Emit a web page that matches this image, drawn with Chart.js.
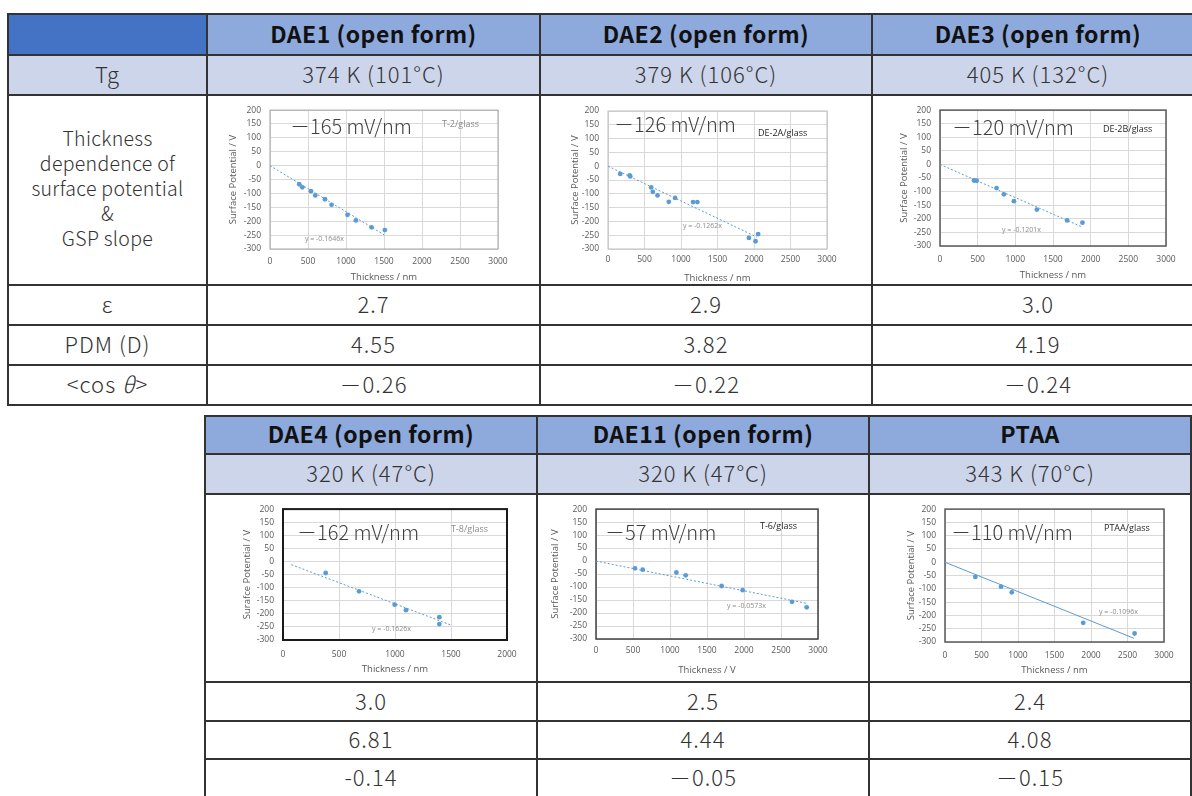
<!DOCTYPE html>
<html>
<head>
<meta charset="utf-8">
<script src="https://cdn.jsdelivr.net/npm/chart.js@4.4.1/dist/chart.umd.min.js"></script>
<style>
body { margin:0; width:1192px; height:796px; overflow:hidden; background:#fff; position:relative;
       font-family:'Noto Sans CJK JP','Noto Sans',sans-serif; color:#333; }
.cell { position:absolute; display:flex; align-items:center; justify-content:center; text-align:center;
        font-size:22px; font-weight:300; letter-spacing:1px; box-sizing:border-box; line-height:25px;
        padding-bottom:3px; }
.head { font-weight:700; color:#111; font-size:23px; letter-spacing:0.5px; }
.small { font-size:19.5px; letter-spacing:0.3px; padding-bottom:6px; }
.line { position:absolute; background:#333; }
canvas { position:absolute; }
</style>
</head>
<body>
<script>
// table text
const compounds = ['DAE1 (open form)', 'DAE2 (open form)', 'DAE3 (open form)',
                   'DAE4 (open form)', 'DAE11 (open form)', 'PTAA'];
const tgLabels = ['374 K (101°C)', '379 K (106°C)', '405 K (132°C)',
                  '320 K (47°C)', '320 K (47°C)', '343 K (70°C)'];
const epsValues = ['2.7', '2.9', '3.0', '3.0', '2.5', '2.4'];
const pdmValues = ['4.55', '3.82', '4.19', '6.81', '4.44', '4.08'];
const cosValues = ['－0.26', '－0.22', '－0.24', '-0.14', '－0.05', '－0.15'];
const rowLabels = ['Tg', 'Thickness<br>dependence of<br>surface potential<br>&amp;<br>GSP slope',
                   'ε', 'PDM (D)', '&lt;cos&nbsp;<i>θ</i>&gt;'];

// chart text
const slopeLabels = ['－165 mV/nm', '－126 mV/nm', '－120 mV/nm', '－162 mV/nm', '－57 mV/nm', '－110 mV/nm'];
const sampleLabels = ['T-2/glass', 'DE-2A/glass', 'DE-2B/glass', 'T-8/glass', 'T-6/glass', 'PTAA/glass'];
const fitLabels = ['y = -0.1646x', 'y = -0.1262x', 'y = -0.1201x', 'y = -0.1626x', 'y = -0.0573x', 'y = -0.1096x'];
const yTitles = ['Surface Potential / V', 'Surface Potential / V', 'Surface Potential / V',
                 'Surafce Potential / V', 'Surface Potential / V', 'Surface Potential / V'];
const xTitles = ['Thickness / nm', 'Thickness / nm', 'Thickness / nm',
                 'Thickness / nm', 'Thickness / V', 'Thickness / nm'];
const xMaxes = [3000, 3000, 3000, 2000, 3000, 3000];

// measured points (thickness nm, surface potential V)
const dae1Thickness = [385, 425, 539, 596, 723, 810, 1020, 1130, 1336, 1511];
const dae1Potential = [-67, -78, -92, -107, -121, -141, -177, -197, -222, -232];
const dae1FitX = [0, 1502];
const dae1FitY = [0, -249];

const dae2Thickness = [168, 296, 305, 592, 614, 678, 833, 919, 1165, 1224, 1930, 2021, 2057];
const dae2Potential = [-28, -33, -37, -77, -93, -106, -129, -115, -130, -130, -260, -272, -246];
const dae2FitX = [0, 2040];
const dae2FitY = [0, -257];

const dae3Thickness = [451, 486, 751, 848, 981, 1286, 1688, 1891];
const dae3Potential = [-59, -60, -87, -110, -135, -166, -206, -214];
const dae3FitX = [0, 1878];
const dae3FitY = [0, -229];

const dae4Thickness = [381, 679, 997, 1098, 1396, 1396];
const dae4Potential = [-44, -114, -165, -186, -213, -239];
const dae4FitX = [74, 1500];
const dae4FitY = [-12, -243];

const dae11Thickness = [527, 631, 1086, 1212, 1698, 1982, 2649, 2847];
const dae11Potential = [-28, -33, -44, -55, -96, -112, -157, -178];
const dae11FitX = [0, 2847];
const dae11FitY = [0, -163];

const ptaaThickness = [416, 768, 915, 1893, 2597];
const ptaaPotential = [-55, -92, -113, -228, -268];
const ptaaFitX = [0, 2588];
const ptaaFitY = [0, -286];

const series = [
    [dae1Thickness, dae1Potential, dae1FitX, dae1FitY],
    [dae2Thickness, dae2Potential, dae2FitX, dae2FitY],
    [dae3Thickness, dae3Potential, dae3FitX, dae3FitY],
    [dae4Thickness, dae4Potential, dae4FitX, dae4FitY],
    [dae11Thickness, dae11Potential, dae11FitX, dae11FitY],
    [ptaaThickness, ptaaPotential, ptaaFitX, ptaaFitY]
];

// layout of the two tables (page px)
const tables = [
    { cols: [8, 207, 540, 872, 1204], rows: [14, 55, 95, 285, 325, 365, 405], first: 0, labels: true },
    { cols: [205, 537, 869, 1191], rows: [416, 454, 494, 682, 721, 759, 797], first: 3, labels: false }
];

// chart panel placement and look
const panels = [
    { plot: [270, 108, 498, 249], yTitleX: 233, xTitleY: 277, tickGap: 7, frame: '#A6A6A6', frameW: 1,
      big: [263, 143], sample: [2263, 147], sampleColor: '#8c8c8c', fit: [460, -265], dash: [2, 2] },
    { plot: [608, 111, 827, 249], yTitleX: 575, xTitleY: 278, tickGap: 5, frame: '#BFBFBF', frameW: 1,
      big: [82, 153], sample: [2055, 120], sampleColor: '#262626', fit: [1027, -217], dash: [2, 2] },
    { plot: [940, 107, 1166, 246], yTitleX: 904, xTitleY: 275, tickGap: 8, frame: '#595959', frameW: 1.5,
      big: [159, 135], sample: [2163, 128], sampleColor: '#262626', fit: [823, -242], dash: [2, 2] },
    { plot: [283, 501, 507, 640], yTitleX: 247, xTitleY: 669, tickGap: 9, frame: '#1a1a1a', frameW: 2,
      big: [125, 110], sample: [1500, 124], sampleColor: '#8c8c8c', fit: [795, -257], dash: [2, 2] },
    { plot: [596, 501, 818, 639], yTitleX: 555, xTitleY: 670, tickGap: 6, frame: '#404040', frameW: 1.5,
      big: [122, 109], sample: [2216, 135], sampleColor: '#262626', fit: [1770, -173], dash: [2, 2] },
    { plot: [945, 500, 1164, 642], yTitleX: 911, xTitleY: 670, tickGap: 8, frame: '#595959', frameW: 1.5,
      big: [82, 112], sample: [2178, 126], sampleColor: '#262626', fit: [2110, -187], dash: [] }
];

const BLUE = '#5B9BD5';

function addCell(x0, y0, x1, y1, html, bg, cls) {
    const d = document.createElement('div');
    d.className = 'cell' + (cls ? ' ' + cls : '');
    d.style.left = x0 + 'px';
    d.style.top = y0 + 'px';
    d.style.width = (x1 - x0) + 'px';
    d.style.height = (y1 - y0) + 'px';
    if (bg) d.style.background = bg;
    d.innerHTML = html;
    document.body.appendChild(d);
}

function addLine(x, y, w, h) {
    const d = document.createElement('div');
    d.className = 'line';
    d.style.left = x + 'px';
    d.style.top = y + 'px';
    d.style.width = w + 'px';
    d.style.height = h + 'px';
    document.body.appendChild(d);
}

const panelDecor = {
    id: 'panelDecor',
    beforeDatasetsDraw(chart, args, opts) {
        const a = chart.chartArea;
        const ctx = chart.ctx;
        ctx.save();
        ctx.strokeStyle = opts.frame;
        ctx.lineWidth = opts.frameW;
        ctx.strokeRect(a.left, a.top, a.right - a.left, a.bottom - a.top);
        ctx.restore();
    },
    afterDraw(chart, args, opts) {
        const { ctx, scales: { x, y } } = chart;
        ctx.save();
        ctx.textAlign = 'left';
        ctx.textBaseline = 'middle';
        for (const n of opts.notes) {
            ctx.font = n.font;
            ctx.fillStyle = n.color;
            ctx.fillText(n.text, x.getPixelForValue(n.x), y.getPixelForValue(n.y));
        }
        ctx.restore();
    }
};

function makeChart(i, cx0, cy0, cx1, cy1) {
    const p = panels[i];
    const [xs, ys, fx, fy] = series[i];
    const canvas = document.createElement('canvas');
    const w = cx1 - cx0, h = cy1 - cy0;
    canvas.width = w;
    canvas.height = h;
    canvas.style.left = cx0 + 'px';
    canvas.style.top = cy0 + 'px';
    canvas.style.width = w + 'px';
    canvas.style.height = h + 'px';
    document.body.appendChild(canvas);

    const yWidth = p.plot[0] - cx0;
    const xHeight = cy1 - p.plot[3];
    const lh = 9.5 * 1.2;

    new Chart(canvas.getContext('2d'), {
        type: 'scatter',
        data: {
            datasets: [{
                data: xs.map((v, k) => ({ x: v, y: ys[k] })),
                backgroundColor: BLUE,
                borderColor: BLUE,
                pointRadius: 2.4,
                pointBorderWidth: 0
            }, {
                data: fx.map((v, k) => ({ x: v, y: fy[k] })),
                showLine: true,
                borderColor: BLUE,
                borderWidth: 1,
                borderDash: p.dash,
                pointRadius: 0
            }]
        },
        options: {
            responsive: false,
            animation: false,
            events: [],
            layout: { padding: { left: 0, bottom: 0, top: p.plot[1] - cy0, right: cx1 - p.plot[2] } },
            scales: {
                x: {
                    type: 'linear', min: 0, max: xMaxes[i],
                    afterFit: s => { s.height = xHeight; },
                    ticks: { stepSize: 500, padding: p.tickGap, color: '#595959', maxRotation: 0, autoSkip: false,
                             font: { family: 'Open Sans', size: 8.5 }, callback: v => String(v) },
                    grid: { color: '#D9D9D9', drawTicks: false },
                    border: { display: false },
                    title: { display: true, text: xTitles[i], color: '#595959',
                             font: { family: 'Open Sans', size: 9.5 },
                             padding: { top: 0, bottom: (cy1 - p.xTitleY) - lh / 2 } }
                },
                y: {
                    min: -300, max: 200,
                    afterFit: s => { s.width = yWidth; },
                    ticks: { stepSize: 50, padding: 9, color: '#595959', autoSkip: false,
                             font: { family: 'Open Sans', size: 8.5 }, callback: v => String(v) },
                    grid: { color: '#D9D9D9', drawTicks: false },
                    border: { display: false },
                    title: { display: true, text: yTitles[i], color: '#595959',
                             font: { family: 'Open Sans', size: 9.5 },
                             padding: { top: (p.yTitleX - cx0) - lh / 2, bottom: 0 } }
                }
            },
            plugins: {
                legend: { display: false },
                tooltip: { enabled: false },
                panelDecor: {
                    frame: p.frame,
                    frameW: p.frameW,
                    notes: [
                        { text: slopeLabels[i], x: p.big[0], y: p.big[1], color: '#404040',
                          font: '300 20px "Noto Sans CJK JP"' },
                        { text: sampleLabels[i], x: p.sample[0], y: p.sample[1], color: p.sampleColor,
                          font: '9px "Open Sans"' },
                        { text: fitLabels[i], x: p.fit[0], y: p.fit[1], color: '#8c8c8c',
                          font: '7px "Open Sans"' }
                    ]
                }
            }
        },
        plugins: [panelDecor]
    });
}

for (const t of tables) {
    const off = t.labels ? 1 : 0;
    const r = t.rows;
    if (t.labels) {
        const x0 = t.cols[0], x1 = t.cols[1];
        addCell(x0, r[0], x1, r[1], '', '#4472C4');
        addCell(x0, r[1], x1, r[2], rowLabels[0], '#CDD5EA');
        addCell(x0, r[2], x1, r[3], rowLabels[1], null, 'small');
        addCell(x0, r[3], x1, r[4], rowLabels[2]);
        addCell(x0, r[4], x1, r[5], rowLabels[3]);
        addCell(x0, r[5], x1, r[6], rowLabels[4]);
    }
    for (let c = off; c < t.cols.length - 1; c++) {
        const i = t.first + c - off;
        const x0 = t.cols[c], x1 = t.cols[c + 1];
        addCell(x0, r[0], x1, r[1], compounds[i], '#8EA9DB', 'head');
        addCell(x0, r[1], x1, r[2], tgLabels[i], '#CDD5EA');
        addCell(x0, r[3], x1, r[4], epsValues[i]);
        addCell(x0, r[4], x1, r[5], pdmValues[i]);
        addCell(x0, r[5], x1, r[6], cosValues[i]);
        makeChart(i, x0 + 1, r[2] + 1, x1 - 1, r[3] - 1);
    }
    // grid lines
    const left = t.cols[0], right = t.cols[t.cols.length - 1];
    for (const y of r) addLine(left - 1, y - 1, right - left + 2, 2);
    for (const x of t.cols) addLine(x - 1, r[0] - 1, 2, r[r.length - 1] - r[0] + 2);
}
</script>
</body>
</html>
